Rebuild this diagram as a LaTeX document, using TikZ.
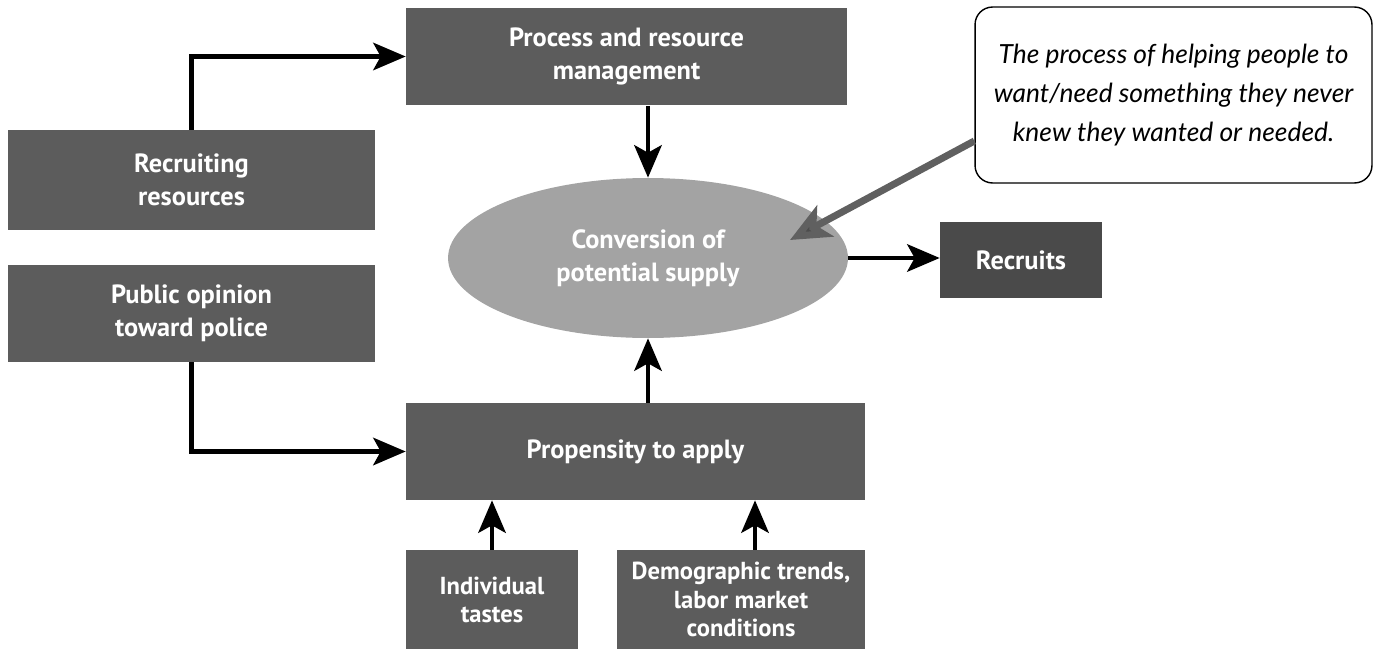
\documentclass[tikz,border=0pt]{standalone}
\usepackage{fontspec}
\setmainfont{PT Sans}
\newfontfamily\notefont{Lato}
\usepackage{tikz}
\usetikzlibrary{shapes.geometric}
\usetikzlibrary{arrows.meta}
\definecolor{boxgray}{HTML}{5C5C5C}
\definecolor{ovalgray}{HTML}{A3A3A3}
\definecolor{darkbox}{HTML}{4A4A4A}
\tikzset{
	factor/.style={rectangle, fill=boxgray, text=white, font=\bfseries\fontsize{15}{19}\selectfont, align=center, inner sep=2pt},
	flow/.style={-{Stealth[length=6.5mm,width=5.5mm,inset=1.5mm]}, line width=2.4pt},
	note/.style={rectangle, rounded corners=10pt, draw, thick, fill=white, align=center, font=\notefont\itshape\fontsize{15}{22}\selectfont}
}

\begin{document}
\begin{tikzpicture}[x=0.02cm, y=-0.02cm]
			\useasboundingbox (0,0) rectangle (1378,649);
			\node[factor, minimum width=8.82cm, minimum height=1.96cm] (proc) at (626.5,56.5) {Process and resource\\management};
			\node[factor, minimum width=7.34cm, minimum height=2.0cm] (recres) at (191.5,180) {Recruiting\\resources};
			\node[factor, minimum width=7.34cm, minimum height=1.94cm] (pubop) at (191.5,313.5) {Public opinion\\toward police};
			\node[ellipse, fill=ovalgray, text=white, font=\bfseries\fontsize{15}{19}\selectfont, align=center, minimum width=8cm, minimum height=3.2cm, inner sep=0pt] (conv) at (648,258) {Conversion of\\potential supply};
			\node[factor, fill=darkbox, minimum width=3.24cm, minimum height=1.52cm] (recruits) at (1021,260) {Recruits};
			\node[factor, minimum width=9.18cm, minimum height=1.94cm] (prop) at (635.5,451.5) {Propensity to apply};
			\node[factor, font=\bfseries\fontsize{14}{16}\selectfont, minimum width=3.44cm, minimum height=1.98cm] (indiv) at (492,599.5) {Individual\\tastes};
			\node[factor, font=\bfseries\fontsize{14}{16}\selectfont, minimum width=4.96cm, minimum height=1.98cm] (demo) at (741,599.5) {Demographic trends,\\labor market\\conditions};
			\node[note, minimum width=7.94cm, minimum height=3.52cm] (callout) at (1173.5,95) {The process of helping people to\\want/need something they never\\knew they wanted or needed.};
			\coordinate (tip) at (790,240);

			\draw[flow] (recres.north) |- (proc.west);
			\draw[flow] (pubop.south) |- (prop.west);
			\draw[flow] (conv.north |- proc.south) -- (conv.north);
			\draw[flow] (prop.north -| conv.south) -- (conv.south);
			\draw[flow] (conv.east) -- (conv.east -| recruits.west);
			\draw[flow] (indiv.north) -- (indiv.north |- prop.south);
			\draw[flow] ([xshift=0.28cm]demo.north) -- ([xshift=0.28cm]demo.north |- prop.south);
			\draw[-{Stealth[length=8mm,width=7mm,inset=2mm,fill=gray!60!black]}, line width=4pt, draw=gray!75!black] (callout.193) -- (tip);
		\end{tikzpicture}
\end{document}
